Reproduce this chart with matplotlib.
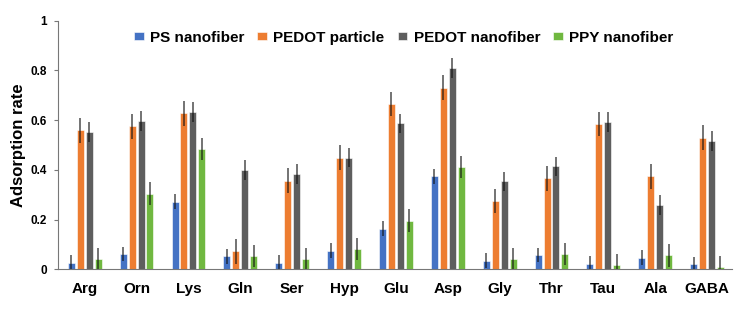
import numpy as np
import matplotlib.pyplot as plt

plt.rcParams['font.family'] = ['Liberation Sans', 'DejaVu Sans']

# 아미노산 종류
categories = ['Arg', 'Orn', 'Lys', 'Gln', 'Ser', 'Hyp', 'Glu', 'Asp', 'Gly', 'Thr', 'Tau', 'Ala', 'GABA']
series_names = ['PS nanofiber', 'PEDOT particle', 'PEDOT nanofiber', 'PPY nanofiber']

ps_nanofiber = [0.027, 0.062, 0.273, 0.053, 0.027, 0.075, 0.163, 0.375, 0.034, 0.058, 0.022, 0.047, 0.021]
pedot_particle = [0.560, 0.575, 0.628, 0.072, 0.357, 0.450, 0.665, 0.730, 0.274, 0.367, 0.585, 0.375, 0.530]
pedot_nanofiber = [0.553, 0.597, 0.633, 0.400, 0.385, 0.450, 0.587, 0.810, 0.355, 0.414, 0.592, 0.259, 0.518]
ppy_nanofiber = [0.042, 0.305, 0.485, 0.055, 0.042, 0.083, 0.196, 0.413, 0.042, 0.062, 0.017, 0.056, 0.010]

ps_err = [0.030, 0.030, 0.030, 0.030, 0.030, 0.030, 0.030, 0.030, 0.030, 0.030, 0.030, 0.030, 0.030]
pedot_particle_err = [0.050, 0.050, 0.050, 0.050, 0.050, 0.050, 0.050, 0.050, 0.049, 0.050, 0.050, 0.050, 0.050]
pedot_nanofiber_err = [0.040, 0.040, 0.040, 0.040, 0.040, 0.040, 0.040, 0.040, 0.038, 0.040, 0.040, 0.040, 0.040]
ppy_err = [0.045, 0.045, 0.045, 0.045, 0.045, 0.045, 0.045, 0.045, 0.045, 0.045, 0.045, 0.045, 0.045]

colors = ['#4472C4', '#ED7D31', '#5E5E5E', '#70B840']

values = [ps_nanofiber, pedot_particle, pedot_nanofiber, ppy_nanofiber]
errors = [ps_err, pedot_particle_err, pedot_nanofiber_err, ppy_err]

fig = plt.figure(figsize=(7.5, 3.1), dpi=100)
ax = fig.add_axes([0.077, 0.131, 0.899, 0.802])

x = np.arange(len(categories))
width = 0.135
pitch = 0.172

for i, (vals, errs, name, color) in enumerate(zip(values, errors, series_names, colors)):
    pos = x + (i - 1.5) * pitch
    ax.bar(pos, vals, width=width, color=color, label=name,
           edgecolor='white', linewidth=0.4)
    ax.errorbar(pos, vals, yerr=errs, fmt='none', ecolor='#111111',
                elinewidth=1.1, capsize=0, alpha=0.75)

ax.set_xlim(-0.52, len(categories) - 0.52)
ax.set_ylim(0, 1)
ax.set_yticks([0, 0.2, 0.4, 0.6, 0.8, 1])
ax.set_yticklabels(['0', '0.2', '0.4', '0.6', '0.8', '1'])
ax.set_xticks(x)
ax.set_xticklabels(categories, fontsize=11, fontweight='bold')
ax.tick_params(axis='x', length=0, pad=9)
ax.tick_params(axis='y', labelsize=8.5, length=3, width=0.8, color='#777777', pad=5)
for lbl in ax.get_yticklabels():
    lbl.set_fontweight('bold')

ax.spines['top'].set_visible(False)
ax.spines['right'].set_visible(False)
ax.spines['left'].set_color('#777777')
ax.spines['bottom'].set_color('#777777')
ax.spines['left'].set_linewidth(0.8)
ax.spines['bottom'].set_linewidth(0.8)

ax.set_ylabel('Adsorption rate', fontsize=12, fontweight='bold', labelpad=3)

ax.legend(loc='upper center', bbox_to_anchor=(0.513, 1.015), ncol=4, frameon=False,
          prop={'weight': 'bold', 'size': 11}, handlelength=0.65, handleheight=0.45,
          handletextpad=0.4, columnspacing=0.85)

fig.savefig('out.png', dpi=100)
